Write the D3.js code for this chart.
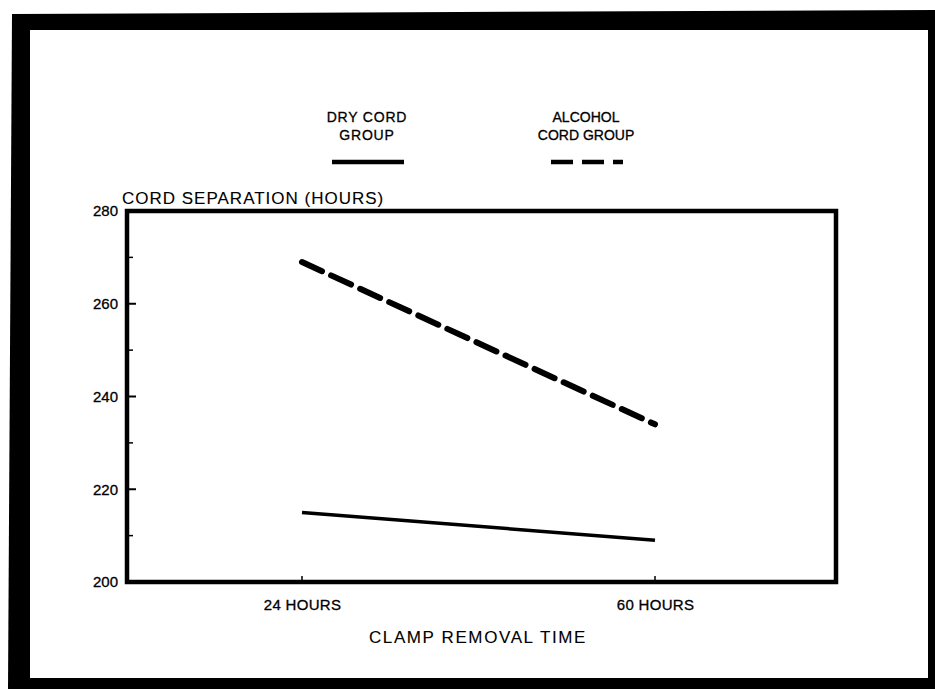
<!DOCTYPE html>
<html><head><meta charset="utf-8">
<script src="https://cdn.jsdelivr.net/npm/d3@7"></script>
<style>body{margin:0;background:#fff}svg{display:block}text{font-family:"Liberation Sans",Arial,sans-serif;fill:#000;stroke:#000;stroke-width:0.3px}text.title{stroke-width:0.1px}</style>
</head><body><svg id="c" width="935" height="689"></svg>
<script>
const clampTimes = ["24 HOURS", "60 HOURS"];
const dryCord = [215, 209];
const alcoholCord = [269, 234];
const yTicks = [200, 220, 240, 260, 280];
const yMinor = [210, 230, 250, 270];
const seriesNames = ["DRY CORD|GROUP", "ALCOHOL|CORD GROUP"];

const svg = d3.select("#c");
// outer photographic frame
svg.append("path").attr("d","M12,14 L935,10 L935,689 L8,689 Z").attr("fill","#000");
svg.append("rect").attr("x",30).attr("y",30).attr("width",898).attr("height",648).attr("fill","#fff");

const m = {l:127, r:836, t:211, b:582};
const x = d3.scalePoint().domain(clampTimes).range([302, 655]);
const y = d3.scaleLinear().domain([200,280]).range([m.b, m.t]);

// frame of plot
svg.append("rect").attr("x",m.l).attr("y",m.t).attr("width",m.r-m.l).attr("height",m.b-m.t)
  .attr("fill","none").attr("stroke","#000").attr("stroke-width",4.5);

// y axis
const ya = svg.append("g").attr("transform",`translate(${m.l},0)`)
  .call(d3.axisLeft(y).tickValues(yTicks).tickSize(0).tickPadding(9).tickFormat(d3.format("d")));
ya.select(".domain").remove();
ya.selectAll("text").style("font-size","15px").style("font-family","Liberation Sans, Arial, sans-serif");
// inward ticks
svg.append("g").selectAll("line").data(yTicks.filter(d=>d>200&&d<280)).join("line")
  .attr("x1",m.l).attr("x2",m.l+9).attr("y1",d=>y(d)).attr("y2",d=>y(d)).attr("stroke","#000").attr("stroke-width",2);
svg.append("g").selectAll("line").data(yMinor).join("line")
  .attr("x1",m.l).attr("x2",m.l+6).attr("y1",d=>y(d)).attr("y2",d=>y(d)).attr("stroke","#000").attr("stroke-width",1.5);

// x axis
const xa = svg.append("g").attr("transform",`translate(0,${m.b})`)
  .call(d3.axisBottom(x).tickSize(0).tickPadding(17));
xa.select(".domain").remove();
xa.selectAll("text").style("font-size","15px").style("font-family","Liberation Sans, Arial, sans-serif").style("letter-spacing","0.3px");
svg.append("g").selectAll("line").data(clampTimes).join("line")
  .attr("x1",d=>x(d)).attr("x2",d=>x(d)).attr("y1",m.b).attr("y2",m.b-6).attr("stroke","#000").attr("stroke-width",1.5);

// titles
svg.append("text").attr("class","title").attr("x",122).attr("y",204).style("font-size","17px").style("letter-spacing","1px").text("CORD SEPARATION (HOURS)");
svg.append("text").attr("class","title").attr("x",478).attr("y",643).attr("text-anchor","middle").style("font-size","17px").style("letter-spacing","1.6px").text("CLAMP REMOVAL TIME");

// lines
const line = d3.line().x((d,i)=>x(clampTimes[i])).y(d=>y(d));
svg.append("path").datum(dryCord).attr("d",line).attr("fill","none").attr("stroke","#000").attr("stroke-width",3.5);
svg.append("path").datum(alcoholCord).attr("d",line).attr("fill","none").attr("stroke","#000")
  .attr("stroke-width",6).attr("stroke-dasharray","22 10").attr("stroke-linecap","round");

// legend
const legX = [367, 586];
seriesNames.forEach((n,i)=>{
  const parts = n.split("|");
  parts.forEach((p,j)=>svg.append("text").attr("x",legX[i]).attr("y",122+j*18).attr("text-anchor","middle")
    .style("font-size","14px").style("letter-spacing", i===0 ? "0.8px" : "0px").text(p));
  const ln = svg.append("line").attr("x1",legX[i]-35).attr("x2",legX[i]+37).attr("y1",162).attr("y2",162)
    .attr("stroke","#000").attr("stroke-width",4.5);
  if(i===1) ln.attr("stroke-dasharray","22 9");
});
</script></body></html>
